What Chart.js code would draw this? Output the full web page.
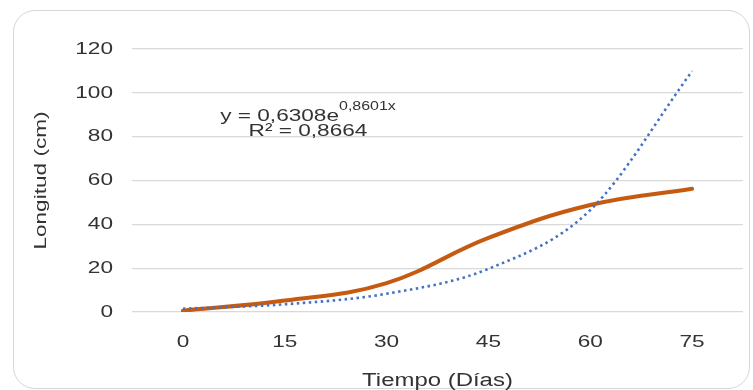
<!DOCTYPE html>
<html>
<head>
<meta charset="utf-8">
<script src="https://cdn.jsdelivr.net/npm/chart.js@4.4.1/dist/chart.umd.min.js"></script>
<style>
  html, body { margin: 0; padding: 0; background: #fff; overflow: hidden; }
  #wrap { position: relative; width: 753px; height: 390px; }
  #card {
    position: absolute; left: 13px; top: 10px; width: 737px; height: 379px;
    border: 1.5px solid #d6d6d6; border-radius: 22px; box-sizing: border-box;
  }
  canvas { position: absolute; left: 0; top: 0; }
</style>
</head>
<body>
<div id="wrap">
  <div id="card"></div>
  <canvas id="chart" width="753" height="390"></canvas>
</div>
<script>
// data
const dias = ['0', '15', '30', '45', '60', '75'];
const longitud = [0.6, 5.2, 13.2, 33.8, 48.8, 56.2];
const tendencia = [1.49, 3.52, 8.33, 19.7, 46.5, 109.9]; // exponential trendline
const yMin = 0, yMax = 120, yStep = 20;

const ecuacion = 'y = 0,6308e';
const exponente = '0,8601x';
const r2 = 'R² = 0,8664';

const FONT = '"Liberation Sans", Arial, sans-serif';
const TXT = '#333333';
const STRETCH = 1.33; // text in the screenshot is drawn wide

// stretch every text along its own direction, trendline label
const textPlugin = {
  id: 'textPlugin',
  beforeInit(chart) {
    const ctx = chart.ctx;
    const fill = ctx.fillText.bind(ctx);
    ctx.fillText = function (t, x, y, mw) {
      ctx.save();
      ctx.translate(x, y);
      ctx.scale(STRETCH, 1);
      fill(t, 0, 0);
      ctx.restore();
    };
  },
  afterDatasetsDraw(chart) {
    const ctx = chart.ctx;
    const cx = 308;
    ctx.save();
    ctx.fillStyle = TXT;
    ctx.textBaseline = 'alphabetic';
    ctx.textAlign = 'left';
    ctx.font = '17px ' + FONT;
    const w1 = ctx.measureText(ecuacion).width * STRETCH;
    ctx.font = '12px ' + FONT;
    const w2 = ctx.measureText(exponente).width * STRETCH;
    const x0 = cx - (w1 + w2) / 2;
    ctx.fillText(exponente, x0 + w1, 110);
    ctx.font = '17px ' + FONT;
    ctx.fillText(ecuacion, x0, 121);
    ctx.textAlign = 'center';
    ctx.fillText(r2, cx, 136);
    ctx.restore();
  }
};

new Chart(document.getElementById('chart'), {
  type: 'line',
  data: {
    labels: dias,
    datasets: [
      {
        label: 'Longitud',
        data: longitud,
        borderColor: '#c55a11',
        borderWidth: 4,
        tension: 0.4,
        borderCapStyle: 'round',
        pointRadius: 0,
        order: 1
      },
      {
        label: 'Expon. (Longitud)',
        data: tendencia,
        borderColor: '#4472c4',
        borderWidth: 2.6,
        borderDash: [2.5, 3.5],
        cubicInterpolationMode: 'monotone',
        pointRadius: 0,
        order: 0
      }
    ]
  },
  options: {
    responsive: false,
    animation: false,
    devicePixelRatio: 1,
    layout: { padding: { left: 28, right: 10, top: 49, bottom: 0 } },
    plugins: { legend: { display: false }, tooltip: { enabled: false } },
    scales: {
      x: {
        offset: true,
        grid: { display: false, drawTicks: false },
        border: { display: false },
        ticks: { color: TXT, font: { family: FONT, size: 17 }, padding: 20, maxRotation: 0, autoSkip: false },
        title: {
          display: true, text: 'Tiempo (Días)', color: TXT,
          font: { family: FONT, size: 18 }, padding: { top: 0, bottom: -2 }
        },
        afterFit(scale) { scale.height = 78; }
      },
      y: {
        min: yMin, max: yMax,
        grid: { color: '#d9d9d9', lineWidth: 1.3, drawTicks: false },
        border: { display: false },
        ticks: { stepSize: yStep, color: TXT, font: { family: FONT, size: 17 }, padding: 19 },
        title: {
          display: true, text: 'Longitud (cm)', color: TXT,
          font: { family: FONT, size: 17 }, padding: { top: 3, bottom: 0 }
        },
        afterFit(scale) { scale.width = 104; }
      }
    }
  },
  plugins: [textPlugin]
});
</script>
</body>
</html>
